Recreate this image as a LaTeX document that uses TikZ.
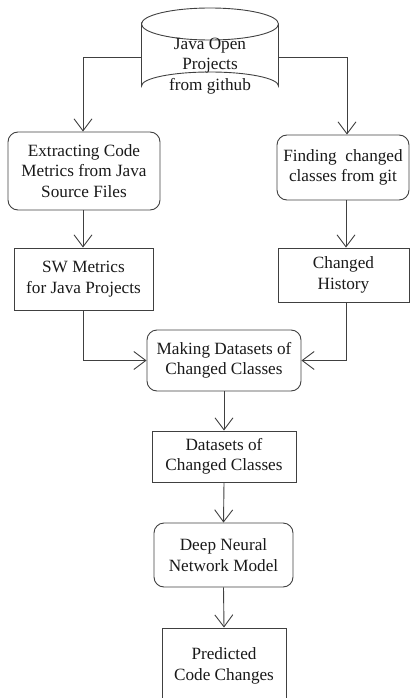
\documentclass[tikz,border=0pt]{standalone}
\usepackage{fontspec}
\setmainfont{Liberation Serif}
\usetikzlibrary{arrows.meta}
\definecolor{ln}{HTML}{404040}
\begin{document}
\begin{tikzpicture}[x=1pt,y=-1pt,
  txt/.style={font=\fontsize{17.2}{20.5}\selectfont,text=black!90,align=center,inner sep=0pt},
  box/.style={txt,draw=ln,line width=0.9pt,rectangle},
  rbox/.style={box,rounded corners=10pt},
  arr/.style={draw=ln,line width=0.9pt,-{Straight Barb[length=12pt,width=18pt,line width=0.9pt]}}]
\useasboundingbox (0,0) rectangle (410,698);
\clip (0,0) rectangle (410,698);
% cylinder
\draw[ln,line width=0.9pt] (141.5,24) arc[start angle=180,end angle=360,x radius=68.5,y radius=16]
  arc[start angle=0,end angle=180,x radius=68.5,y radius=16] -- (141.5,86)
  arc[start angle=180,end angle=360,x radius=68.5,y radius=14] -- (278.5,24);
\node[box,draw=none,minimum width=137pt,minimum height=92pt] (src) at (210,54) {};
\node[txt] (srct) at (210,66) {Java Open\\Projects\\from github};
% boxes
\node[rbox,minimum width=152pt,minimum height=78pt] (ext) at (84,171) {Extracting Code\\Metrics from Java\\Source Files};
\node[rbox,minimum width=132pt,minimum height=65pt] (fnd) at (343,167.5) {Finding \ changed\\classes from git};
\node[box,minimum width=139pt,minimum height=62pt] (sw) at (83.5,279) {SW Metrics\\for Java Projects};
\node[box,minimum width=131pt,minimum height=54pt] (hist) at (343.5,275) {Changed\\History};
\node[rbox,minimum width=154pt,minimum height=61pt] (mak) at (224,360.5) {Making Datasets of\\Changed Classes};
\node[box,minimum width=144pt,minimum height=51pt] (ds) at (224,456.5) {Datasets of\\Changed Classes};
\node[rbox,minimum width=139pt,minimum height=64pt] (dnn) at (223.5,555) {Deep Neural\\Network Model};
\node[box,minimum width=124pt,minimum height=76pt] (pred) at (224,666) {Predicted\\Code Changes};
% connectors
\draw[arr] (src.west |- 0,57) -| (ext.north -| 83,0);
\draw[arr] (src.east |- 0,57) -| (fnd.north -| 347,0);
\draw[arr] (ext.south -| 83,0) -- (sw.north -| 83,0);
\draw[arr] (fnd.south -| 346,0) -- (hist.north -| 346,0);
\draw[arr] (sw.south -| 83,0) |- (mak.west);
\draw[arr] (hist.south -| 346,0) |- (mak.east);
\draw[arr] (mak.south) -- (ds.north);
\draw[arr] (ds.south) -- (dnn.north);
\draw[arr] (dnn.south) -- (pred.north);
\end{tikzpicture}
\end{document}
